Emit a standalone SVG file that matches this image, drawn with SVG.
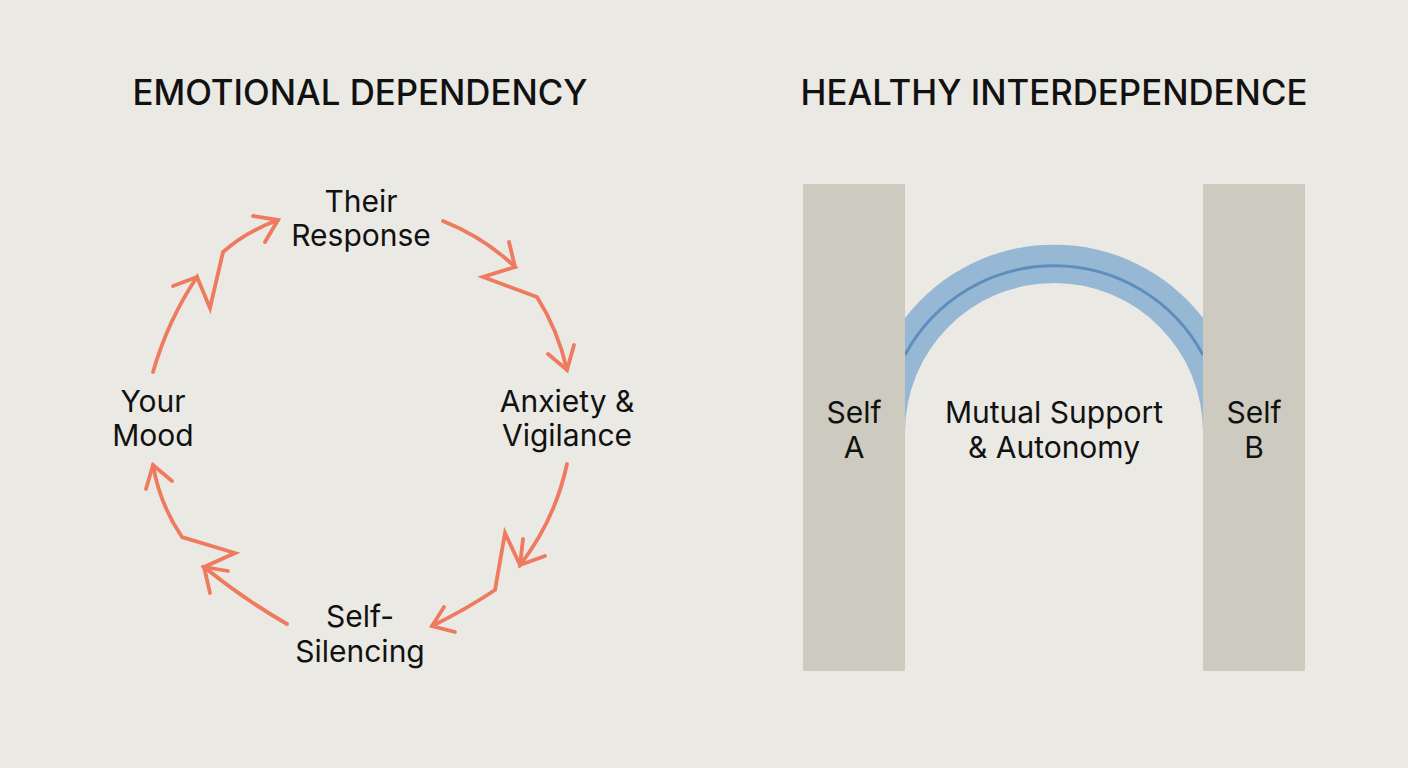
<svg xmlns="http://www.w3.org/2000/svg" width="1408" height="768" viewBox="0 0 1408 768">
<style>
.title{font-family:Inter,"Liberation Sans",sans-serif;font-size:34.8px;font-weight:500;fill:#111;text-anchor:middle}
.lbl{font-family:Inter,"Liberation Sans",sans-serif;font-size:30px;fill:#111;text-anchor:middle}
.arr{fill:none;stroke:#ee7a5f;stroke-width:3.8;stroke-linecap:round;stroke-linejoin:miter}
.pillar{fill:#cdcbc0}
</style>
<rect width="1408" height="768" fill="#ebe9e4"/>
<text class="title" x="360" y="105">EMOTIONAL DEPENDENCY</text>
<text class="title" x="1054" y="105">HEALTHY INTERDEPENDENCE</text>

<g id="connectors">
<path class="arr" d="M153,372 Q168,320 197,277 L210,308 L223,252 Q245,232 278,220"/>
<path class="arr" d="M173,286 L197,277"/>
<path class="arr" d="M253,216 L278,220 L265,242"/>

<path class="arr" d="M443,221 Q485,238 515,267 L483,277 L537,297 Q558,330 567,370"/>
<path class="arr" d="M509,242 L515,267"/>
<path class="arr" d="M548,354 L567,370 L574,345"/>

<path class="arr" d="M567,464 Q555,520 520,565 L505,533 L495,590 Q465,610 432,626"/>
<path class="arr" d="M523,539 L520,565 L545,556"/>
<path class="arr" d="M444,607 L432,626 L455,632"/>

<path class="arr" d="M287,624 Q245,600 204,567 L235,553 L182,537 Q160,505 153,465"/>
<path class="arr" d="M210,593 L204,567 L228,571"/>
<path class="arr" d="M146,489 L153,465 L172,481"/>
</g>

<g id="node-their-response"><text class="lbl" x="361" y="212">Their</text><text class="lbl" x="361" y="246">Response</text></g>
<g id="node-anxiety"><text class="lbl" x="567" y="412">Anxiety &amp;</text><text class="lbl" x="567" y="446">Vigilance</text></g>
<g id="node-self-silencing"><text class="lbl" x="360" y="627">Self-</text><text class="lbl" x="360" y="662">Silencing</text></g>
<g id="node-your-mood"><text class="lbl" x="153" y="412">Your</text><text class="lbl" x="153" y="446">Mood</text></g>

<g id="arch">
<path d="M905,432 A149,149 0 0 1 1203,432 L1203,318 A188,188 0 0 0 905,318 Z" fill="#96b8d5"/>
<path d="M905,355 A169,169 0 0 1 1203,355" fill="none" stroke="#5f8ebb" stroke-width="3"/>
</g>
<g id="node-self-a"><rect class="pillar" x="803" y="184" width="102" height="487"/><text class="lbl" x="854" y="423">Self</text><text class="lbl" x="854" y="458">A</text></g>
<g id="node-self-b"><rect class="pillar" x="1203" y="184" width="102" height="487"/><text class="lbl" x="1254" y="423">Self</text><text class="lbl" x="1254" y="458">B</text></g>
<g id="node-mutual"><text class="lbl" x="1054" y="423">Mutual Support</text><text class="lbl" x="1054" y="458">&amp; Autonomy</text></g>
</svg>
